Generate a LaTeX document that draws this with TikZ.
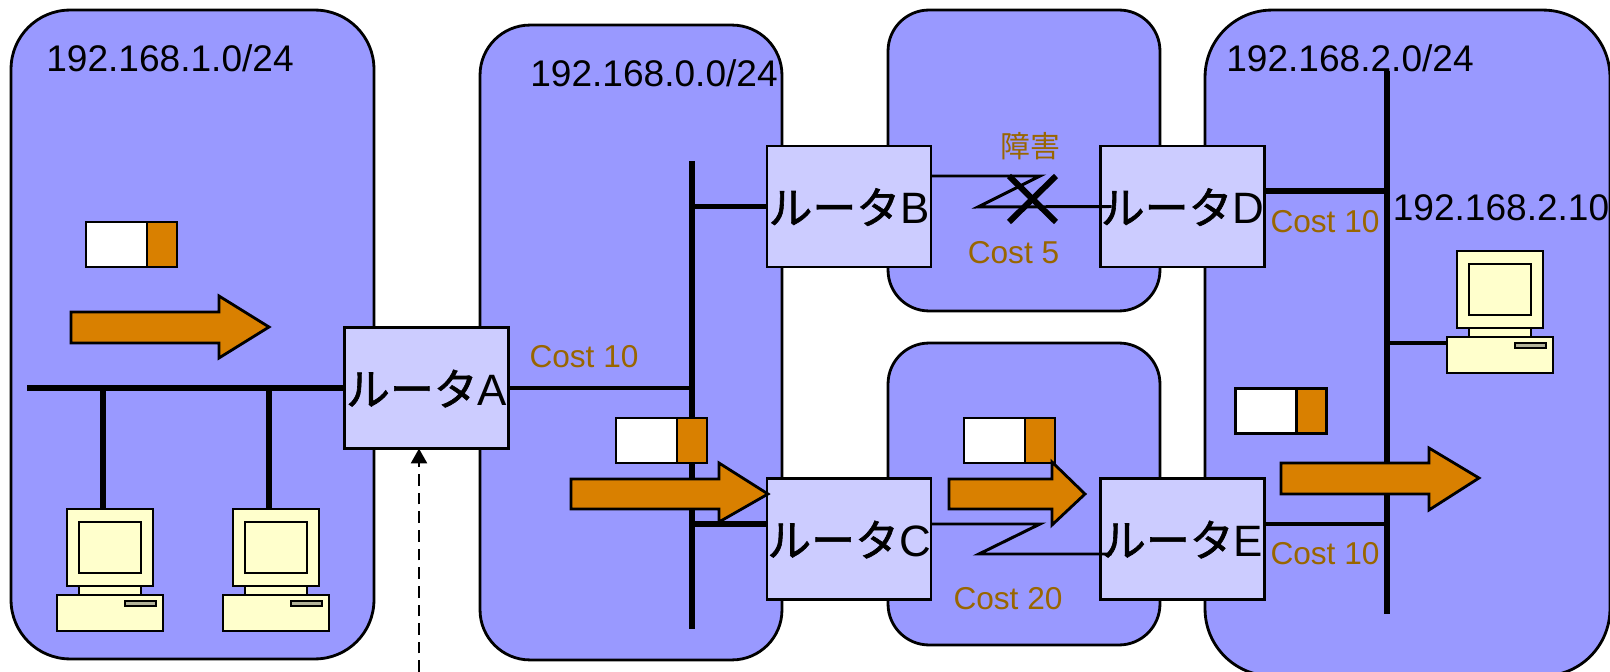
\documentclass[tikz,border=0pt]{standalone}
\usepackage{fontspec}
\setmainfont{Liberation Sans}
\newfontfamily\jpfont{Noto Sans CJK JP}
\newfontfamily\jprouter[FakeBold=1.4]{Noto Sans CJK JP}
\usepackage{xcolor}
\usetikzlibrary{arrows.meta, positioning, calc}
\definecolor{panelblue}{HTML}{9999FF}
\definecolor{routerblue}{HTML}{CCCCFF}
\definecolor{flowline}{HTML}{D98000}
\definecolor{costbrown}{HTML}{996600}
\definecolor{pcyellow}{HTML}{FFFFCC}
\definecolor{slotgray}{HTML}{B2B299}

\begin{document}
\begin{tikzpicture}[
    x=0.02cm, y=-0.02cm,
    panel/.style={rectangle, draw, line width=1.6pt, fill=panelblue, inner sep=0pt},
    router/.style={rectangle, draw, line width=1.6pt, fill=routerblue, inner sep=0pt, outer sep=0pt, minimum width=3.28cm, minimum height=2.42cm, text height=0.8cm, text depth=0.1cm, font=\fontsize{25}{28}\selectfont},
    bus/.style={line width=3.4pt},
    stub/.style={line width=2.8pt},
    zigzag/.style={line width=1.7pt, line join=miter},
    flow/.style={draw, line width=1.6pt, fill=flowline, line join=miter},
    packetbody/.style={rectangle, draw, line width=1.6pt, fill=white, inner sep=0pt, outer sep=0pt, minimum width=1.22cm, minimum height=0.9cm},
    packethead/.style={rectangle, draw, line width=1.6pt, fill=flowline, inner sep=0pt, outer sep=0pt, minimum width=0.6cm, minimum height=0.9cm},
    net/.style={inner sep=0pt, font=\fontsize{21.1}{24}\selectfont},
    cost/.style={inner sep=0pt, text=costbrown, font=\fontsize{18}{21}\selectfont},
    pc/.pic={
        \draw[line width=1.6pt, fill=pcyellow] (12,0) rectangle (98,77);
        \draw[line width=1.6pt, fill=pcyellow] (24,13) rectangle (86,64);
        \draw[line width=1.6pt, fill=pcyellow] (24,77) rectangle (86,86);
        \draw[line width=1.6pt, fill=pcyellow] (2,86) rectangle (108,122);
        \draw[line width=1.4pt, fill=slotgray] (70,92) rectangle (101,97);
        \coordinate (-top) at (36,0);
        \coordinate (-side) at (2,92);
    }
]
\path[use as bounding box, clip] (0,0) rectangle (1610,672);

% networks
\node[panel, rounded corners=1.18cm, minimum width=7.26cm, minimum height=12.98cm] (lan1) at (192.5,334.5) {};
\node[panel, rounded corners=1cm, minimum width=6.04cm, minimum height=12.7cm] (lan0) at (631,342.5) {};
\node[panel, rounded corners=0.82cm, minimum width=5.44cm, minimum height=6.02cm] (linkBD) at (1024,160.5) {};
\node[panel, rounded corners=0.82cm, minimum width=5.44cm, minimum height=6.04cm] (linkCE) at (1024,494) {};
\node[panel, rounded corners=1.34cm, minimum width=8.1cm, minimum height=13.32cm] (lan2) at (1407.5,343) {};

% routers
\node[router] (routerA) at (426.5,388) {{\jprouter ルータ}A};
\node[router] (routerB) at (849,206.5) {{\jprouter ルータ}B};
\node[router] (routerC) at (849,539) {{\jprouter ルータ}C};
\node[router] (routerD) at (1182.5,206.5) {{\jprouter ルータ}D};
\node[router] (routerE) at (1182.5,539) {{\jprouter ルータ}E};

% buses
\coordinate (lan1end) at (27,388);
\coordinate (bus0top) at (692,161);
\coordinate (bus0bot) at (692,629);
\coordinate (bus2top) at (1387,71);
\coordinate (bus2bot) at (1387,614);
\coordinate (tapC) at (692,524);
\coordinate (tapD) at (1387,191);
\coordinate (tapE) at (1387,524);
\coordinate (tapA1) at (103,388);
\coordinate (tapA2) at (269,388);
\coordinate (tapPC) at (1387,343);

\pic (pc1) at (55,509) {pc};
\pic (pc2) at (221,509) {pc};
\pic (pc3) at (1445,251) {pc};

\draw[bus] (lan1end) -- (routerA.west);
\draw[stub, line width=3.2pt] (tapA1) -- (tapA1 |- pc1-top);
\draw[stub, line width=3.2pt] (tapA2) -- (tapA2 |- pc2-top);
\draw[stub] (routerA.east) -- (routerA.east -| bus0top);
\draw[bus] (bus0top) -- (bus0bot);
\draw[bus] (bus0top |- routerB.west) -- (routerB.west);
\draw[bus] (tapC) -- (tapC -| routerC.west);
\draw[bus] (bus2top) -- (bus2bot);
\draw[stub, line width=3.2pt] (tapD) -- (tapD -| routerD.east);
\draw[stub] (tapE) -- (tapE -| routerE.east);
\draw[stub] (tapPC) -- (tapPC -| pc3-side);

% serial links
\draw[zigzag] (routerB.east |- 0,176) -- (1040,176) -- (978,207) -- ($(routerD.west)+(11,0)$);
\draw[zigzag] (routerC.east |- 0,524) -- (1040,524) -- (979,554) -- ($(routerE.west)+(11,15)$);
\draw[line width=3.4pt] (1009,176) -- (1056,222);
\draw[line width=3.4pt] (1056,176) -- (1009,222);

% packets
\node[packetbody] (packet1) at (116.5,244.5) {};
\node[packethead, right=0pt of packet1] (packet1h) {};
\node[packetbody] (packet2) at (646.5,440.5) {};
\node[packethead, right=0pt of packet2] (packet2h) {};
\node[packetbody] (packet3) at (994.5,440.5) {};
\node[packethead, right=0pt of packet3] (packet3h) {};
\node[packetbody] (packet4) at (1266,411) {};
\node[packethead, right=0pt of packet4] (packet4h) {};

% flow arrows
\draw[flow] (71,312) -- (219,312) -- (219,296) -- (269,327) -- (219,358) -- (219,343) -- (71,343) -- cycle;
\draw[flow] (571,479) -- (719,479) -- (719,463) -- (768,494) -- (719,522) -- (719,509) -- (571,509) -- cycle;
\draw[flow] (949,479) -- (1052,479) -- (1052,462) -- (1085,494) -- (1052,525) -- (1052,509) -- (949,509) -- cycle;
\draw[flow] (1281,463) -- (1429,463) -- (1429,448) -- (1479,478) -- (1429,510) -- (1429,494) -- (1281,494) -- cycle;

% labels
\node[net] (net1) at (170,58.5) {192.168.1.0/24};
\node[net] (net0) at (654,73) {192.168.0.0/24};
\node[net] (net2) at (1350,58.5) {192.168.2.0/24};
\node[net] (host) at (1501,207.5) {192.168.2.10};
\node[cost] (costA) at (584,357) {Cost 10};
\node[cost] (costD) at (1325,222) {Cost 10};
\node[cost] (costE) at (1325,554) {Cost 10};
\node[cost] (costBD) at (1013.5,253) {Cost 5};
\node[cost] (costCE) at (1008,599) {Cost 20};
\node[cost, font=\fontsize{17}{20}\selectfont\jpfont] (fault) at (1030,146) {障害};

% incoming
\coordinate (client) at (419,672);
\draw[-{Triangle[length=8.5pt, width=9pt]}, line width=1.7pt, dash pattern=on 6.6pt off 4pt] (client) -- (client |- routerA.south);
\end{tikzpicture}
\end{document}
